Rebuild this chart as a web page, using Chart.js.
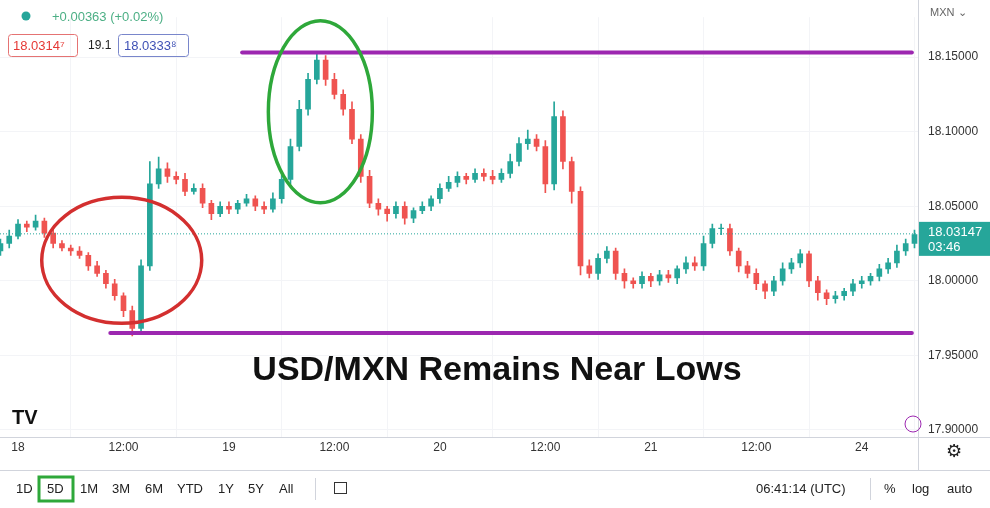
<!DOCTYPE html>
<html><head><meta charset="utf-8">
<script src="https://cdn.jsdelivr.net/npm/chart.js@4.4.0/dist/chart.umd.min.js"></script>
<style>html,body{margin:0;padding:0;background:#fff;}#wrap{width:990px;height:508px;position:relative;}</style>
</head><body><div id="wrap"><canvas id="c" width="990" height="508"></canvas></div>
<script>
const hours = [];
for (let h = -2; h <= 102; h++) hours.push(h);
const closes = [18.025,18.030,18.038,18.036,18.040,18.032,18.025,18.022,18.020,18.017,18.010,18.005,17.998,17.990,17.980,17.968,18.010,18.065,18.075,18.070,18.068,18.060,18.062,18.052,18.045,18.050,18.048,18.052,18.055,18.050,18.048,18.055,18.068,18.090,18.115,18.135,18.148,18.135,18.125,18.115,18.095,18.070,18.052,18.048,18.045,18.050,18.042,18.047,18.050,18.055,18.062,18.066,18.070,18.068,18.072,18.070,18.068,18.072,18.080,18.092,18.095,18.090,18.065,18.110,18.080,18.060,18.010,18.005,18.015,18.020,18.005,18.000,17.998,18.003,18.000,18.004,18.002,18.008,18.012,18.010,18.025,18.035,18.035,18.020,18.010,18.005,17.998,17.993,18.000,18.008,18.012,18.018,18.000,17.992,17.988,17.990,17.993,17.998,18.000,18.003,18.008,18.012,18.020,18.025,18.031];
const opens = [18.020].concat(closes.slice(0, -1));
const wickUp = [3,4,3,2,4,2,3,2,2,3,2,3,2,3,2,3,4,15,8,4,3,4,3,3,2,3,3,2,3,2,3,4,3,5,6,4,5,3,4,3,5,3,4,3,2,3,3,2,3,2,3,4,3,2,3,3,4,3,5,4,6,3,4,10,4,3,3,4,3,3,2,3,2,3,2,3,3,2,4,4,5,3,3,3,2,3,3,2,3,4,3,3,2,3,2,3,2,3,3,2,3,3,4,3,3];
const wickDn = [3,3,2,3,2,3,3,2,3,2,3,2,3,3,4,5,3,3,3,4,3,3,2,3,4,2,3,3,2,3,3,2,3,3,3,4,3,4,3,4,3,4,3,4,5,3,4,3,2,3,3,2,3,3,2,3,3,2,3,3,4,3,6,4,5,8,6,3,4,3,4,5,3,3,4,3,3,4,3,3,3,3,4,3,4,3,4,5,3,3,3,3,4,5,4,3,3,3,3,3,3,3,3,3,3];
const yTicks = [17.90, 17.95, 18.00, 18.05, 18.10, 18.15];
const xTickHours = [0,12,24,36,48,60,72,84,96];
const xTickLabels = ["18","12:00","19","12:00","20","12:00","21","12:00","24"];
const lastPrice = 18.03147;
const resistance = 18.153, support = 17.965;

const UP = '#26a69a', DN = '#ef5350';
const bodies = hours.map((h,i)=>({x:h, y:[opens[i], closes[i]===opens[i]?closes[i]+0.0003:closes[i]]}));
const wicks = hours.map((h,i)=>({x:h, y:[Math.min(opens[i],closes[i]) - wickDn[i]/1000, Math.max(opens[i],closes[i]) + wickUp[i]/1000]}));
const cols = hours.map((h,i)=> closes[i]>=opens[i]?UP:DN);

const overlay = {
  id:'overlay',
  afterDatasetsDraw(chart){
    const ctx = chart.ctx, x = chart.scales.x, y = chart.scales.y, ca = chart.chartArea;
    ctx.save();
    ctx.strokeStyle = UP; ctx.lineWidth = 1; ctx.setLineDash([1,2]);
    ctx.beginPath(); ctx.moveTo(ca.left, y.getPixelForValue(lastPrice)); ctx.lineTo(ca.right, y.getPixelForValue(lastPrice)); ctx.stroke();
    ctx.setLineDash([]);
    ctx.strokeStyle = '#9c27b0'; ctx.lineWidth = 4; ctx.lineCap='round';
    ctx.beginPath(); ctx.moveTo(x.getPixelForValue(25.5), y.getPixelForValue(resistance)); ctx.lineTo(x.getPixelForValue(101.7), y.getPixelForValue(resistance)); ctx.stroke();
    ctx.beginPath(); ctx.moveTo(x.getPixelForValue(10.5), y.getPixelForValue(support)); ctx.lineTo(x.getPixelForValue(101.7), y.getPixelForValue(support)); ctx.stroke();
    ctx.lineWidth = 3.5;
    ctx.strokeStyle = '#d32f2f';
    ctx.beginPath(); ctx.ellipse(x.getPixelForValue(11.8), y.getPixelForValue(18.0137), 80, 63, 0, 0, Math.PI*2); ctx.stroke();
    ctx.strokeStyle = '#2ea83a';
    ctx.beginPath(); ctx.ellipse(x.getPixelForValue(34.4), y.getPixelForValue(18.1133), 52, 91, 0, 0, Math.PI*2); ctx.stroke();
    ctx.fillStyle = '#111'; ctx.font = 'bold 34px "Liberation Sans", Arial, sans-serif';
    ctx.textAlign='center'; ctx.textBaseline='middle';
    ctx.fillText('USD/MXN Remains Near Lows', 497, 371);
    ctx.font = 'bold 20px "Liberation Sans", sans-serif'; ctx.textAlign='left';
    ctx.fillText('TV', 12, 418);
    ctx.restore();
  },
  afterDraw(chart){
    const ctx = chart.ctx, y = chart.scales.y, ca = chart.chartArea;
    ctx.save();
    ctx.strokeStyle = '#d1d4dc'; ctx.lineWidth = 1;
    ctx.beginPath(); ctx.moveTo(ca.right+0.5, 0); ctx.lineTo(ca.right+0.5, 470); ctx.stroke();
    ctx.beginPath(); ctx.moveTo(0, ca.bottom+0.5); ctx.lineTo(990, ca.bottom+0.5); ctx.stroke();
    ctx.beginPath(); ctx.moveTo(0, 470.5); ctx.lineTo(990, 470.5); ctx.stroke();
    const py = y.getPixelForValue(lastPrice);
    ctx.fillStyle = UP; ctx.fillRect(ca.right+1, py-12, 72, 34);
    ctx.fillStyle = '#fff'; ctx.font = '13px "Liberation Sans", sans-serif'; ctx.textAlign='left'; ctx.textBaseline='middle';
    ctx.fillText('18.03147', ca.right+10, py-1);
    ctx.fillText('03:46', ca.right+10, py+14);
    ctx.fillStyle='#666'; ctx.font='11px "Liberation Sans", sans-serif';
    ctx.fillText('MXN ⌄', ca.right+12, 13);
    ctx.fillStyle = UP; ctx.beginPath(); ctx.arc(26, 16, 4.5, 0, Math.PI*2); ctx.fill();
    ctx.fillStyle = '#4caf85'; ctx.font = '13px "Liberation Sans", sans-serif';
    ctx.fillText('+0.00363 (+0.02%)', 52, 17);
    ctx.strokeStyle = '#e57373'; ctx.lineWidth=1;
    ctx.beginPath(); ctx.roundRect(8.5, 34.5, 69, 22, 3); ctx.stroke();
    ctx.fillStyle='#e53935'; ctx.fillText('18.0314⁷', 13, 46);
    ctx.fillStyle='#222'; ctx.font='12px "Liberation Sans", sans-serif'; ctx.fillText('19.1', 88, 46);
    ctx.strokeStyle = '#7986cb';
    ctx.beginPath(); ctx.roundRect(118.5, 34.5, 70, 22, 3); ctx.stroke();
    ctx.fillStyle='#3f51b5'; ctx.font='13px "Liberation Sans", sans-serif'; ctx.fillText('18.0333⁸', 124, 46);
    ctx.fillStyle='#222'; ctx.font='13px "Liberation Sans", sans-serif'; ctx.textBaseline='middle';
    const items=[['1D',16],['5D',47],['1M',80],['3M',112],['6M',145],['YTD',177],['1Y',218],['5Y',248],['All',279]];
    items.forEach(([t,xp])=>ctx.fillText(t,xp,489));
    ctx.strokeStyle='#2ea83a'; ctx.lineWidth=3; ctx.strokeRect(39,477,34,24);
    ctx.strokeStyle='#d1d4dc'; ctx.lineWidth=1;
    ctx.beginPath(); ctx.moveTo(315.5,478); ctx.lineTo(315.5,500); ctx.stroke();
    ctx.beginPath(); ctx.moveTo(870.5,478); ctx.lineTo(870.5,500); ctx.stroke();
    ctx.strokeStyle='#333'; ctx.strokeRect(334.5,482.5,12,11);
    ctx.fillText('06:41:14 (UTC)', 756, 489);
    ctx.fillText('%', 884, 489); ctx.fillText('log', 912, 489); ctx.fillText('auto', 947, 489);
    ctx.font='18px "DejaVu Sans", sans-serif'; ctx.fillText('⚙', 946, 452);
    ctx.strokeStyle='#9c27b0'; ctx.beginPath(); ctx.arc(913, 424, 8, 0, Math.PI*2); ctx.stroke();
    ctx.restore();
  }
};

new Chart(document.getElementById('c'), {
  type:'bar',
  data:{datasets:[
    {data:wicks, backgroundColor:cols, barThickness:1, grouped:false, order:2},
    {data:bodies, backgroundColor:cols, barThickness:5, grouped:false, order:1}
  ]},
  options:{
    responsive:false, animation:false,
    layout:{padding:{left:0,right:0,top:0,bottom:36}},
    plugins:{legend:{display:false}, tooltip:{enabled:false}},
    scales:{
      x:{type:'linear', min:-2.05, max:102.4, offset:false,
        afterBuildTicks(s){ s.ticks = xTickHours.map(v=>({value:v})); },
        afterFit(s){ s.height = 35; },
        ticks:{autoSkip:false, maxRotation:0, color:'#333', font:{size:12, family:'Liberation Sans'}, callback:(v)=>xTickLabels[xTickHours.indexOf(v)] ?? ''},
        grid:{color:'#f3f4f7', drawTicks:false}, border:{display:false}},
      y:{position:'right', min:17.8953, max:18.1767,
        afterBuildTicks(s){ s.ticks = yTicks.map(v=>({value:v})); },
        afterFit(s){ s.width = 72; },
        ticks:{color:'#333', padding:10, font:{size:12, family:'Liberation Sans'}, callback:(v)=>v.toFixed(5)},
        grid:{color:'#f3f4f7', drawTicks:false}, border:{display:false}}
    }
  },
  plugins:[overlay]
});
</script></body></html>
